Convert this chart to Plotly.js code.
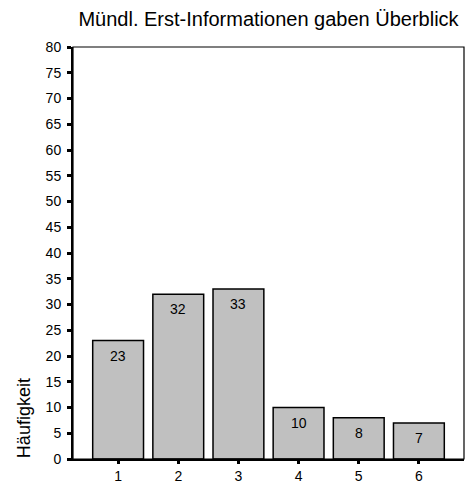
<!DOCTYPE html>
<html>
<head>
<meta charset="utf-8">
<script src="https://cdn.plot.ly/plotly-3.0.1.min.js"></script>
<style>html,body{margin:0;padding:0;background:#fff;}#chart{width:471px;height:486px;}</style>
</head>
<body>
<div id="chart"></div>
<script>
var categories = [1, 2, 3, 4, 5, 6];
var tickLabels = ["1", "2", "3", "4", "5", "6"];
var counts = [23, 32, 33, 10, 8, 7];
var yTicks = [0, 5, 10, 15, 20, 25, 30, 35, 40, 45, 50, 55, 60, 65, 70, 75, 80];
var chartTitle = "Mündl. Erst-Informationen gaben Überblick";
var yTitle = "Häufigkeit";

var FONT = "Liberation Sans, Arial, sans-serif";

var trace = {
  type: "bar",
  x: categories,
  y: counts,
  marker: { color: "#c0c0c0", line: { color: "#000000", width: 1.5 } },
  hoverinfo: "none"
};

var annotations = categories.map(function (c, i) {
  return {
    x: c, y: counts[i], xref: "x", yref: "y",
    text: String(counts[i]), showarrow: false,
    yanchor: "middle", yshift: -15,
    font: { family: FONT, size: 14, color: "#000" }
  };
});
annotations.push({
  xref: "paper", yref: "paper", x: -0.125, y: 0.0995,
  text: yTitle, showarrow: false, textangle: -90,
  xanchor: "center", yanchor: "middle",
  font: { family: FONT, size: 18, color: "#000" }
});

var layout = {
  width: 471, height: 486,
  margin: { l: 73, r: 7, t: 47, b: 27, pad: 0 },
  paper_bgcolor: "#ffffff", plot_bgcolor: "#ffffff",
  font: { family: FONT, color: "#000" },
  showlegend: false,
  bargap: 0.155,
  title: {
    text: chartTitle, x: 0.5, xref: "paper", xanchor: "center",
    y: 0.96, yref: "container", yanchor: "middle",
    font: { family: FONT, size: 20, color: "#000" }
  },
  xaxis: {
    range: [0.25, 6.75], tickvals: categories, ticktext: tickLabels,
    showgrid: false, zeroline: false,
    showline: true, linecolor: "#000", linewidth: 2,
    ticks: "outside", ticklen: 3, tickwidth: 3, tickcolor: "#000",
    tickfont: { family: FONT, size: 14, color: "#000" },
    fixedrange: true
  },
  yaxis: {
    range: [0, 80], tickvals: yTicks,
    showgrid: false, zeroline: false,
    showline: true, linecolor: "#000", linewidth: 2,
    ticks: "outside", ticklen: 4, tickwidth: 3, tickcolor: "#000",
    ticklabelstandoff: 3,
    tickfont: { family: FONT, size: 14, color: "#000" },
    fixedrange: true
  },
  shapes: [{
    type: "rect", xref: "paper", yref: "paper", x0: 0, x1: 1, y0: 0, y1: 1,
    line: { color: "#000", width: 1.2 }, fillcolor: "rgba(0,0,0,0)", layer: "above"
  }],
  annotations: annotations
};

Plotly.newPlot("chart", [trace], layout, { displayModeBar: false, staticPlot: true });
</script>
</body>
</html>
